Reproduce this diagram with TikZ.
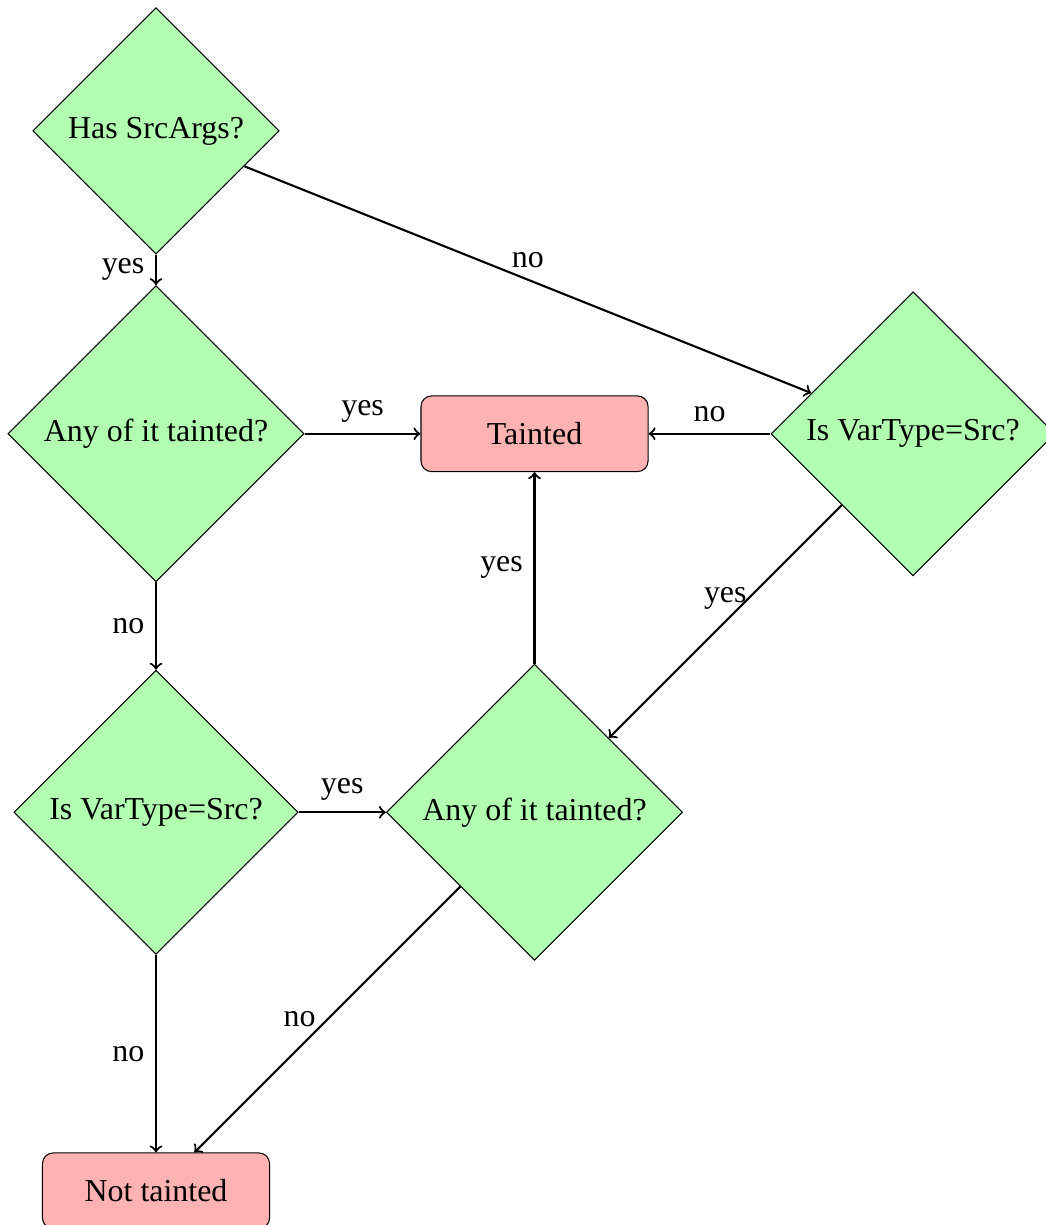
\documentclass[tikz,border=0pt,12pt]{standalone}
\usepackage{fontspec}
\setmainfont{Liberation Serif}
\usetikzlibrary{shapes.geometric}
\tikzset{
    decision/.style={diamond,aspect=1,draw,fill=green!30},
    verdict/.style={rectangle,rounded corners,minimum width=3cm,minimum height=1cm,draw,fill=red!30},
    flow/.style={thick,->}
}
\begin{document}
\begin{tikzpicture}
                \useasboundingbox (-2.061,-14.452) rectangle (11.744,1.730);
                \node[decision] (hasargs) at (0,0) {Has SrcArgs?};
                \node[decision] (argtaint) at (0,-4) {Any of it tainted?};
                \node[verdict] (tainted) at (5,-4) {Tainted};
                \node[decision] (srctype) at (10,-4) {Is VarType=Src?};
                \node[decision] (vartype) at (0,-9) {Is VarType=Src?};
                \node[decision] (vartaint) at (5,-9) {Any of it tainted?};
                \node[verdict] (clean) at (0,-14) {Not tainted};
                \draw[flow] (hasargs) -- node[left] {yes} (argtaint);
                \draw[flow] (hasargs) -- node[above] {no} (srctype);
                \draw[flow] (argtaint) -- node[above] {yes} (tainted);
                \draw[flow] (srctype) -- node[above] {no} (tainted);
                \draw[flow] (argtaint) -- node[left] {no} (vartype);
                \draw[flow] (srctype) -- node[above] {yes} (vartaint);
                \draw[flow] (vartaint) -- node[left] {yes} (tainted);
                \draw[flow] (vartype) -- node[above] {yes} (vartaint);
                \draw[flow] (vartype) -- node[left] {no} (clean);
                \draw[flow] (vartaint) -- node[left] {no} (clean);
            \end{tikzpicture}
\end{document}
